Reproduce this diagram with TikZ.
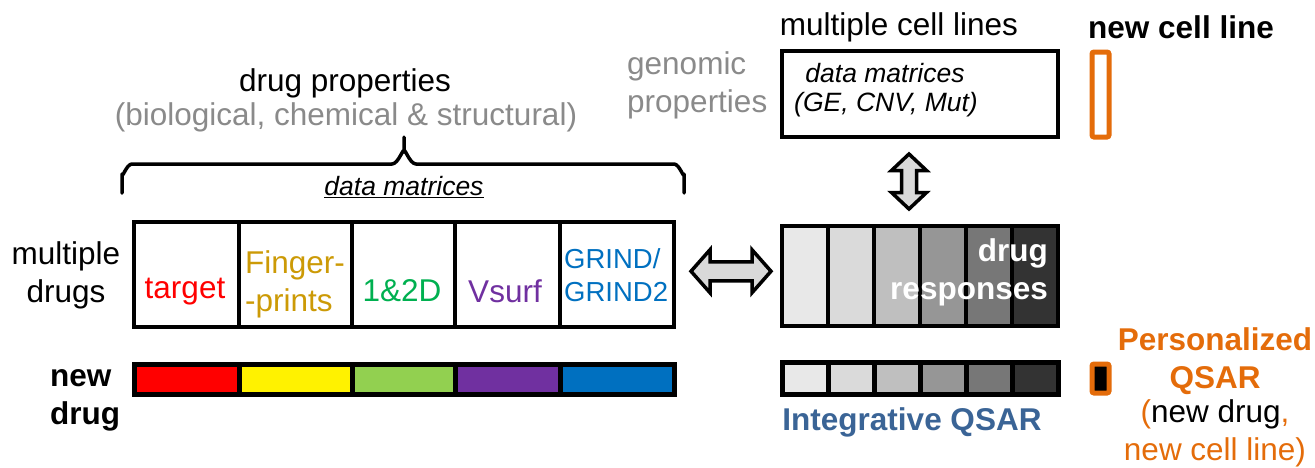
\documentclass[tikz,border=0pt]{standalone}
\usepackage{fontspec}
\setmainfont{Liberation Sans}
\usetikzlibrary{calc}

\definecolor{txtgray}{HTML}{8A8A8A}
\definecolor{fpgold}{HTML}{CC9A06}
\definecolor{dgreen}{HTML}{00B050}
\definecolor{dpurple}{HTML}{7030A0}
\definecolor{dblue}{HTML}{0070C0}
\definecolor{lgreen}{HTML}{92D050}
\definecolor{qorange}{HTML}{E46C0A}
\definecolor{qblue}{HTML}{3A6496}
\definecolor{arrowfill}{HTML}{D9D9D9}
\definecolor{g1}{HTML}{E8E8E8}
\definecolor{g2}{HTML}{DADADA}
\definecolor{g3}{HTML}{BFBFBF}
\definecolor{g4}{HTML}{969696}
\definecolor{g5}{HTML}{777777}
\definecolor{g6}{HTML}{333333}

% block double arrow: centre, half length, head length, head half-width, shaft half-width, rotation
\newcommand\blockdblarrow[6]{%
  \draw[dblarrow, shift={(#1)}, rotate=#6]
    ({-#2},0) -- ({-#2+#3},{-#4}) -- ({-#2+#3},{-#5}) -- ({#2-#3},{-#5}) -- ({#2-#3},{-#4})
    -- ({#2},0) -- ({#2-#3},{#4}) -- ({#2-#3},{#5}) -- ({-#2+#3},{#5}) -- ({-#2+#3},{#4}) -- cycle;}

\begin{document}
\begin{tikzpicture}[x=1pt,y=-1pt,
  big/.style={font=\fontsize{31.5}{38}\selectfont, inner sep=0pt},
  bigb/.style={font=\fontsize{31.5}{38}\selectfont\bfseries, inner sep=0pt},
  mid/.style={font=\fontsize{26.5}{32}\selectfont, inner sep=0pt},
  midit/.style={font=\fontsize{26.5}{32}\selectfont\itshape, inner sep=0pt},
  col/.style={draw, line width=4pt, inner sep=0pt, anchor=north west, minimum height=105pt},
  barcell/.style={draw, line width=5pt, inner sep=0pt, anchor=north west, minimum height=30pt},
  rcol/.style={draw, line width=4pt, inner sep=0pt, anchor=north west, minimum width=46pt, minimum height=100pt},
  rbar/.style={draw, line width=4.5pt, inner sep=0pt, anchor=north west, minimum width=46pt, minimum height=32pt},
  dblarrow/.style={draw, line width=3.5pt, fill=arrowfill, line join=miter},
  newbox/.style={draw=qorange, line width=5pt, rounded corners=2pt, inner sep=0pt, anchor=north west, minimum width=17pt},
  bracestyle/.style={line width=3.5pt, line cap=round, line join=round}
]
\useasboundingbox (0,0) rectangle (1315,467);

% ---- drug side: headings
\node[big] (dprop) at (345,83) {drug properties};
\node[big, text=txtgray] (dsub) at (346,117) {(biological, chemical \& structural)};

% ---- brace over the drug matrices
\coordinate (btip) at (404,137);
\draw[bracestyle] (122,193) -- (122,174) to[out=270,in=180] (132,164) -- (392,164)
  to[out=0,in=90] (btip |- 0,152) -- (btip);
\draw[bracestyle] (btip |- 0,152) to[out=90,in=180] (416,164) -- (674,164)
  to[out=0,in=270] (684,174) -- (684,193);
\node[midit] (dmat) at (404,187) {\underline{data matrices}};

% ---- drug descriptor matrices
\node[col, minimum width=105pt] (d1) at (132,220) {};
\node[col, minimum width=113pt] (d2) at (237,220) {};
\node[col, minimum width=103pt] (d3) at (350,220) {};
\node[col, minimum width=105pt] (d4) at (453,220) {};
\node[col, minimum width=114pt] (d5) at (558,220) {};

\node[big, text=red] (t1) at (185,292) {target};
\node[big, text=fpgold, anchor=west, align=left] (t2) at (245,284) {Finger-\\-prints};
\node[big, text=dgreen] (t3) at (402,291) {1\&2D};
\node[big, text=dpurple] (t4) at (505,291) {Vsurf};
\node[mid, text=dblue, anchor=west, align=left, font=\fontsize{27.5}{33}\selectfont] (t5) at (564,275) {GRIND/\\GRIND2};

\node[big, align=center] (mdrugs) at (66,275) {multiple\\drugs};

% ---- new drug bar
\node[barcell, fill=red, minimum width=105pt] (n1) at (132,362) {};
\node[barcell, fill=yellow, minimum width=113pt] (n2) at (237,362) {};
\node[barcell, fill=lgreen, minimum width=103pt] (n3) at (350,362) {};
\node[barcell, fill=dpurple, minimum width=105pt] (n4) at (453,362) {};
\node[barcell, fill=dblue, minimum width=114pt] (n5) at (558,362) {};
\node[bigb, align=left, anchor=west] (ndrug) at (50,400) {new\\drug};

% ---- cell line side
\node[big] (mcl) at (899,27) {multiple cell lines};
\node[draw, line width=4pt, inner sep=0pt, anchor=north west, minimum width=276pt, minimum height=86pt] (cbox) at (780,49) {};
\node[midit] (cdm) at (885,73) {data matrices};
\node[midit] (cge) at (886,105) {(GE, CNV, Mut)};
\node[big, text=txtgray, align=left, anchor=west] (gprop) at (627,85) {genomic\\properties};

% ---- drug response matrix
\node[rcol, fill=g1] (r1) at (780,224) {};
\node[rcol, fill=g2] (r2) at (826,224) {};
\node[rcol, fill=g3] (r3) at (872,224) {};
\node[rcol, fill=g4] (r4) at (918,224) {};
\node[rcol, fill=g5] (r5) at (964,224) {};
\node[rcol, fill=g6] (r6) at (1010,224) {};
\node[bigb, text=white, align=right, anchor=east] (resp) at (1048,272) {drug\\responses};

% ---- new drug row of responses
\node[rbar, fill=g1] (b1) at (780,360) {};
\node[rbar, fill=g2] (b2) at (826,360) {};
\node[rbar, fill=g3] (b3) at (872,360) {};
\node[rbar, fill=g4] (b4) at (918,360) {};
\node[rbar, fill=g5] (b5) at (964,360) {};
\node[rbar, fill=g6] (b6) at (1010,360) {};
\node[bigb, text=qblue] (iq) at (912,422) {Integrative QSAR};

% ---- double arrows linking the matrices
\coordinate (hac) at ($(d5.east)!0.5!(r1.west)+(3,-4)$);
\blockdblarrow{hac}{40}{19}{21.5}{9.5}{0}
\coordinate (vac) at ($(cbox.south)!0.5!(r2.north -| cbox.south)+(-11,0)$);
\blockdblarrow{vac}{27.5}{16.5}{17.5}{7.5}{90}

% ---- new cell line / personalized QSAR
\node[bigb] (ncl) at (1181,27) {new cell line};
\node[newbox, minimum height=85pt] (nc) at (1089.5,49.5) {};
\node[newbox, fill=black, minimum height=29pt] (pc) at (1089.5,361.5) {};
\node[bigb, text=qorange, align=center] (pq) at (1215,361) {Personalized\\QSAR};
\node[big, align=center] (pnd) at (1215,433) {\textcolor{qorange}{(}new drug\textcolor{qorange}{,}\\\textcolor{qorange}{new cell line)}};
\end{tikzpicture}
\end{document}
